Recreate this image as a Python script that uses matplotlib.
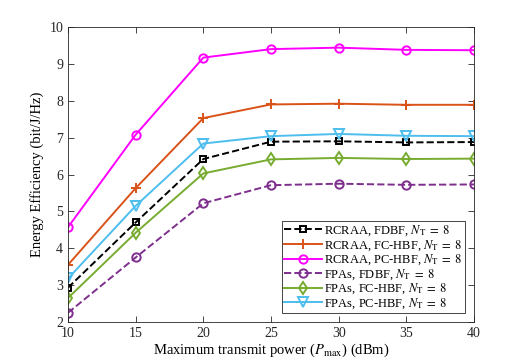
import numpy as np
import matplotlib.pyplot as plt

plt.rcParams['font.family'] = 'Liberation Serif'
plt.rcParams['mathtext.fontset'] = 'stix'

p_max = [10, 15, 20, 25, 30, 35, 40]
rcraa_fdbf = [2.93, 4.70, 6.42, 6.89, 6.90, 6.87, 6.88]
rcraa_fchbf = [3.55, 5.63, 7.53, 7.90, 7.92, 7.89, 7.89]
rcraa_pchbf = [4.57, 7.08, 9.17, 9.40, 9.44, 9.38, 9.37]
fpas_fdbf = [2.25, 3.75, 5.22, 5.71, 5.75, 5.72, 5.73]
fpas_fchbf = [2.65, 4.42, 6.03, 6.41, 6.45, 6.42, 6.43]
fpas_pchbf = [3.18, 5.15, 6.84, 7.04, 7.10, 7.05, 7.04]

fig = plt.figure(figsize=(5.23, 3.61), dpi=100)
ax = fig.add_axes([68/523, 1-322/361, (474-68)/523, (322-27)/361])

nt = r', $N_{\rm T}\;=\;8$'
ax.plot(p_max, rcraa_fdbf, '--s', color='k', lw=1.4, ms=5, mfc='none', mew=1.4, label='RCRAA, FDBF' + nt)
ax.plot(p_max, rcraa_fchbf, '-+', color='#D95319', lw=1.4, ms=7, mew=1.4, label='RCRAA, FC-HBF' + nt)
ax.plot(p_max, rcraa_pchbf, '-o', color='#FF00FF', lw=1.4, ms=6, mfc='none', mew=1.4, label='RCRAA, PC-HBF' + nt)
ax.plot(p_max, fpas_fdbf, '--o', color='#7E2F8E', lw=1.4, ms=6, mfc='none', mew=1.4, label='FPAs, FDBF' + nt)
ax.plot(p_max, fpas_fchbf, '-d', color='#77AC30', lw=1.4, ms=6, mfc='none', mew=1.4, label='FPAs, FC-HBF' + nt)
ax.plot(p_max, fpas_pchbf, '-v', color='#4DBEEE', lw=1.4, ms=7, mfc='none', mew=1.4, label='FPAs, PC-HBF' + nt)

ax.set_xlim(10, 40)
ax.set_ylim(2, 10)
ax.set_xticks(range(10, 41, 5))
ax.set_yticks(range(2, 11))
ax.tick_params(direction='in', top=True, right=True, labelsize=10, colors='#262626', length=4, width=0.6)
for s in ax.spines.values():
    s.set_color('#262626')
    s.set_linewidth(0.6)
ax.set_xlabel(r'Maximum transmit power ($P_{\max}$) (dBm)', fontsize=10.5, labelpad=1)
ax.set_ylabel('Energy Efficiency (bit/J/Hz)', fontsize=10.5, labelpad=4)

leg = ax.legend(loc='lower right', fontsize=9, fancybox=False, framealpha=1,
                edgecolor='#262626', handlelength=3.0, handletextpad=0.2,
                labelspacing=0.0, borderpad=0.2, borderaxespad=0.7)
leg.get_frame().set_linewidth(0.6)

fig.savefig('out.png', dpi=100)
